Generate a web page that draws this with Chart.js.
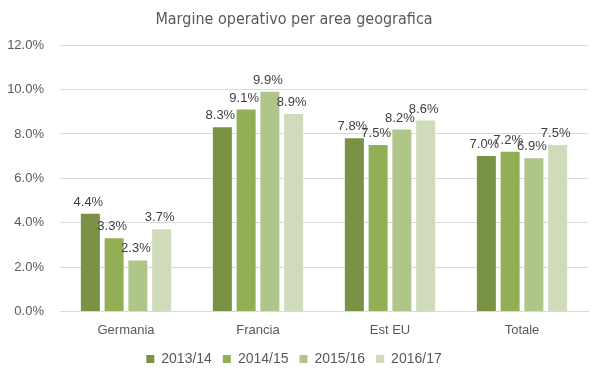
<!DOCTYPE html>
<html lang="it">
<head>
<meta charset="UTF-8">
<title>Margine operativo per area geografica</title>
<script src="https://cdn.jsdelivr.net/npm/chart.js"></script>
<style>
  html, body { margin: 0; padding: 0; background: #fff; }
  #wrap { width: 602px; height: 378px; }
</style>
</head>
<body>
<div id="wrap"><canvas id="chart"></canvas></div>
<script>
const categories = ['Germania', 'Francia', 'Est EU', 'Totale'];
const seriesNames = ['2013/14', '2014/15', '2015/16', '2016/17'];
const v2013 = [4.4, 8.3, 7.8, 7.0];
const v2014 = [3.3, 9.1, 7.5, 7.2];
const v2015 = [2.3, 9.9, 8.2, 6.9];
const v2016 = [3.7, 8.9, 8.6, 7.5];
const colors = ['#7A9245', '#93AF56', '#AEC689', '#CFDBBB'];

const font = "'Liberation Sans', Arial, sans-serif";

// draws the value above every bar
const valueLabels = {
    id: 'valueLabels',
    afterDatasetsDraw(chart) {
        const ctx = chart.ctx;
        ctx.save();
        ctx.font = '13px ' + font;
        ctx.fillStyle = '#404040';
        ctx.textAlign = 'center';
        ctx.textBaseline = 'bottom';
        chart.data.datasets.forEach((ds, i) => {
            chart.getDatasetMeta(i).data.forEach((bar, j) => {
                ctx.fillText(ds.data[j].toFixed(1) + '%', bar.x - 2, bar.y - 5);
            });
        });
        ctx.restore();
    }
};

new Chart(document.getElementById('chart'), {
    type: 'bar',
    data: {
        labels: categories,
        datasets: [v2013, v2014, v2015, v2016].map((d, i) => ({
            label: seriesNames[i],
            data: d,
            backgroundColor: colors[i],
            categoryPercentage: 0.72,
            barPercentage: 0.8
        }))
    },
    options: {
        responsive: true,
        maintainAspectRatio: false,
        animation: false,
        layout: { padding: { left: 0, right: 14, top: 4, bottom: 2 } },
        plugins: {
            title: {
                display: true,
                text: 'Margine operativo per area geografica',
                color: '#595959',
                font: { family: "'Liberation Sans Narrow', 'DejaVu Sans Condensed', " + font, size: 16, weight: 'normal' },
                padding: { top: 6, bottom: 16 }
            },
            legend: {
                position: 'bottom',
                labels: {
                    color: '#595959',
                    font: { family: font, size: 14 },
                    boxWidth: 8,
                    boxHeight: 8,
                    padding: 11
                }
            },
            tooltip: { enabled: false }
        },
        scales: {
            x: {
                grid: { display: false },
                border: { color: '#d9d9d9' },
                ticks: { color: '#595959', font: { family: font, size: 13 } }
            },
            y: {
                min: 0,
                max: 12,
                afterFit(scale) { scale.width = 60; },
                ticks: {
                    stepSize: 2,
                    color: '#595959',
                    font: { family: font, size: 13 },
                    padding: 16,
                    callback: v => v.toFixed(1) + '%'
                },
                grid: { color: '#d9d9d9', drawTicks: false },
                border: { display: false }
            }
        }
    },
    plugins: [valueLabels]
});
</script>
</body>
</html>
